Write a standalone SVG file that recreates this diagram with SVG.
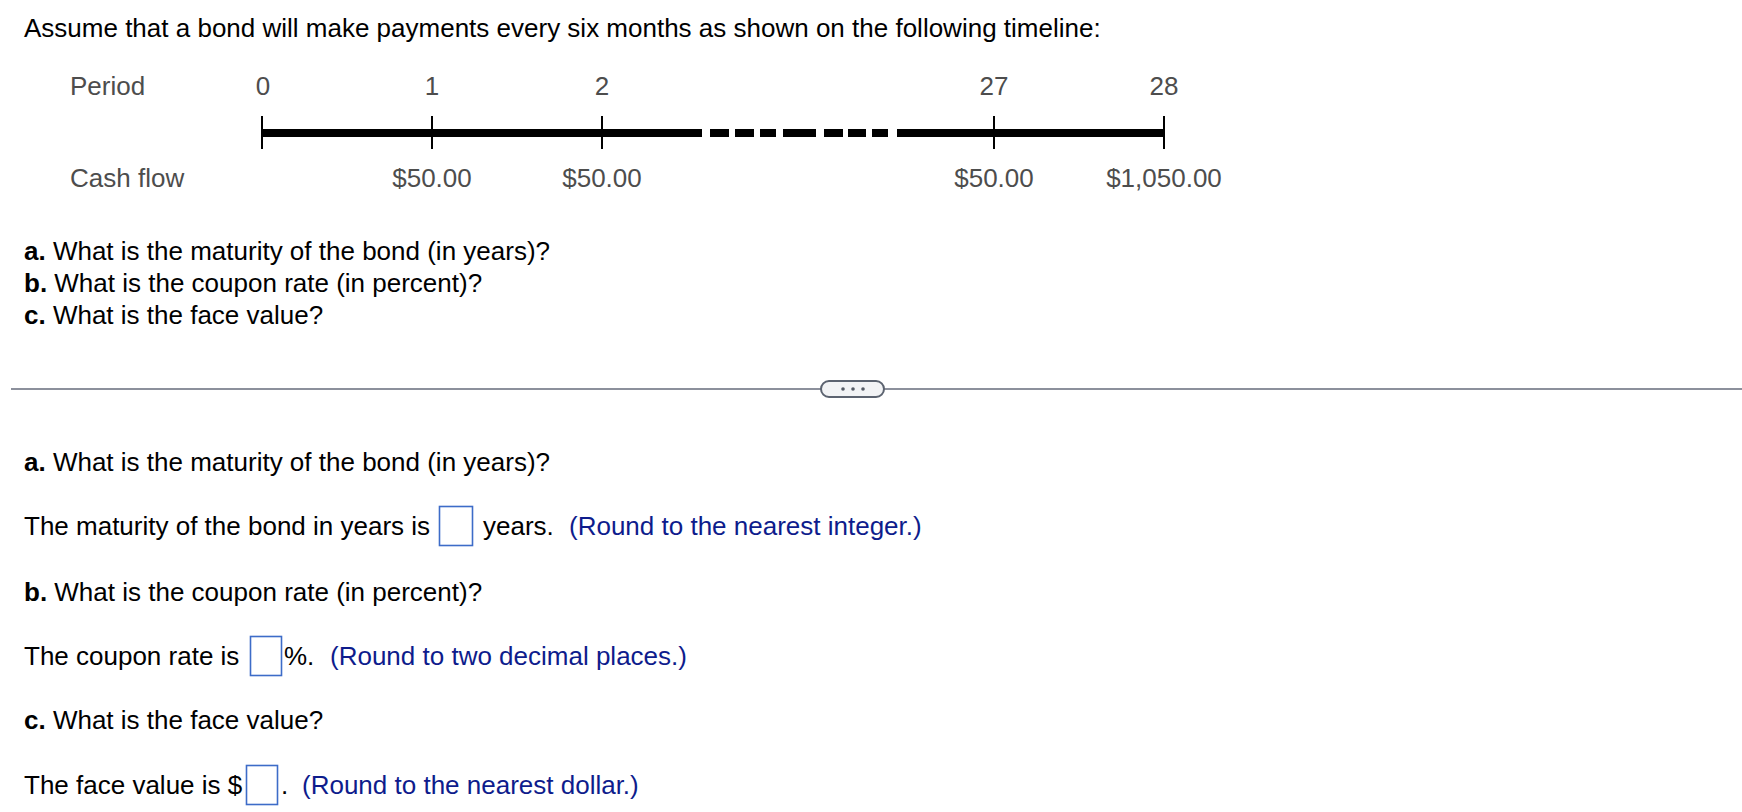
<svg xmlns="http://www.w3.org/2000/svg" width="1742" height="812" viewBox="0 0 1742 812">
<style>
text{font-family:"Liberation Sans",Arial,sans-serif;font-size:26px;fill:#000}
.tl{fill:#4d4d4d}
.mid{text-anchor:middle}
.b{font-weight:bold}
.hint{fill:#0e1c8c}
.seg{stroke:#000;stroke-width:8;fill:none}
.tick{stroke:#000;stroke-width:2}
.box{fill:#fff;stroke:#3d6cc8;stroke-width:1.6}
</style>
<rect width="1742" height="812" fill="#fff"/>
<g id="title"><text x="24" y="37">Assume that a bond will make payments every six months as shown on the following timeline:</text></g>
<g id="timeline">
<text class="tl" x="70" y="95">Period</text>
<text class="tl mid" x="263" y="95">0</text>
<text class="tl mid" x="432" y="95">1</text>
<text class="tl mid" x="602" y="95">2</text>
<text class="tl mid" x="994" y="95">27</text>
<text class="tl mid" x="1164" y="95">28</text>
<line class="seg" x1="262" y1="133" x2="702" y2="133"/>
<line class="seg" x1="710" y1="133" x2="729" y2="133"/>
<line class="seg" x1="735" y1="133" x2="754" y2="133"/>
<line class="seg" x1="760" y1="133" x2="776" y2="133"/>
<line class="seg" x1="783" y1="133" x2="816" y2="133"/>
<line class="seg" x1="824" y1="133" x2="843" y2="133"/>
<line class="seg" x1="848" y1="133" x2="866" y2="133"/>
<line class="seg" x1="872" y1="133" x2="888" y2="133"/>
<line class="seg" x1="897" y1="133" x2="1164" y2="133"/>
<line class="tick" x1="262" y1="116" x2="262" y2="149"/>
<line class="tick" x1="432" y1="116" x2="432" y2="149"/>
<line class="tick" x1="602" y1="116" x2="602" y2="149"/>
<line class="tick" x1="994" y1="116" x2="994" y2="149"/>
<line class="tick" x1="1164" y1="116" x2="1164" y2="149"/>
<text class="tl" x="70" y="187">Cash flow</text>
<text class="tl mid" x="432" y="187">$50.00</text>
<text class="tl mid" x="602" y="187">$50.00</text>
<text class="tl mid" x="994" y="187">$50.00</text>
<text class="tl mid" x="1164" y="187">$1,050.00</text>
</g>
<g id="questions">
<text x="24" y="260"><tspan class="b">a.</tspan> What is the maturity of the bond (in years)?</text>
<text x="24" y="292"><tspan class="b">b.</tspan> What is the coupon rate (in percent)?</text>
<text x="24" y="324"><tspan class="b">c.</tspan> What is the face value?</text>
</g>
<g id="divider">
<line x1="11" y1="389" x2="1742" y2="389" stroke="#8c909c" stroke-width="2"/>
<rect x="821" y="381" width="63" height="16" rx="8" fill="#f2f3f5" stroke="#5c6370" stroke-width="2"/>
<circle cx="843" cy="389" r="1.8" fill="#555b66"/>
<circle cx="853" cy="389" r="1.8" fill="#555b66"/>
<circle cx="863" cy="389" r="1.8" fill="#555b66"/>
</g>
<g id="answer-a">
<text x="24" y="471"><tspan class="b">a.</tspan> What is the maturity of the bond (in years)?</text>
<text x="24" y="535">The maturity of the bond in years is</text>
<rect class="box" x="439.5" y="506.5" width="33" height="39"/>
<text x="483" y="535">years.</text>
<text class="hint" x="569" y="535">(Round to the nearest integer.)</text>
</g>
<g id="answer-b">
<text x="24" y="601"><tspan class="b">b.</tspan> What is the coupon rate (in percent)?</text>
<text x="24" y="665">The coupon rate is</text>
<rect class="box" x="250.5" y="636.5" width="31" height="39"/>
<text x="284" y="665">%.</text>
<text class="hint" x="330" y="665">(Round to two decimal places.)</text>
</g>
<g id="answer-c">
<text x="24" y="729"><tspan class="b">c.</tspan> What is the face value?</text>
<text x="24" y="794">The face value is $</text>
<rect class="box" x="246.5" y="765.5" width="31" height="39"/>
<text x="281" y="794">.</text>
<text class="hint" x="302" y="794">(Round to the nearest dollar.)</text>
</g>
</svg>
